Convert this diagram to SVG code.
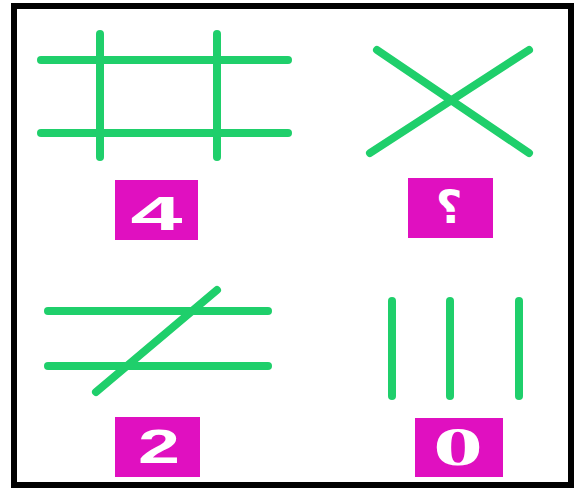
<svg xmlns="http://www.w3.org/2000/svg" width="584" height="497" viewBox="0 0 584 497">
<style>
.g{stroke:#1fcf6b;stroke-width:8;stroke-linecap:round;fill:none}
.box{fill:#e010c0}
.lbl{fill:#fff;font-family:"Liberation Sans","DejaVu Sans",sans-serif;font-weight:bold;font-size:49px;text-anchor:middle}
</style>
<rect x="0" y="0" width="584" height="497" fill="#fff"/>
<rect x="14" y="6" width="557" height="479" fill="#fff" stroke="#000" stroke-width="6"/>
<g id="grid4">
<line class="g" x1="41" y1="60" x2="288" y2="60"/>
<line class="g" x1="41" y1="133" x2="288" y2="133"/>
<line class="g" x1="100" y1="34" x2="100" y2="157"/>
<line class="g" x1="217" y1="34" x2="217" y2="157"/>
<rect class="box" x="115" y="180" width="83" height="60"/>
<text class="lbl" x="156.5" y="230" textLength="52" lengthAdjust="spacingAndGlyphs">4</text>
</g>
<g id="crossQ">
<line class="g" x1="377" y1="50" x2="529" y2="153"/>
<line class="g" x1="529" y1="50" x2="370" y2="153"/>
<rect class="box" x="408" y="178" width="85" height="60"/>
<text class="lbl" x="449" y="223" style="font-family:'DejaVu Sans',sans-serif;font-size:46px">؟</text>
</g>
<g id="para2">
<line class="g" x1="48" y1="311" x2="268" y2="311"/>
<line class="g" x1="48" y1="366" x2="268" y2="366"/>
<line class="g" x1="217" y1="290" x2="96" y2="392"/>
<rect class="box" x="115" y="417" width="85" height="60"/>
<text class="lbl" x="159" y="463" textLength="42" lengthAdjust="spacingAndGlyphs">2</text>
</g>
<g id="lines0">
<line class="g" x1="392" y1="301" x2="392" y2="396"/>
<line class="g" x1="450" y1="301" x2="450" y2="396"/>
<line class="g" x1="519" y1="301" x2="519" y2="396"/>
<rect class="box" x="415" y="418" width="88" height="59"/>
<text class="lbl" x="458" y="465" textLength="50" lengthAdjust="spacingAndGlyphs" style="font-family:'Liberation Serif',serif;font-size:55px">0</text>
</g>
</svg>
